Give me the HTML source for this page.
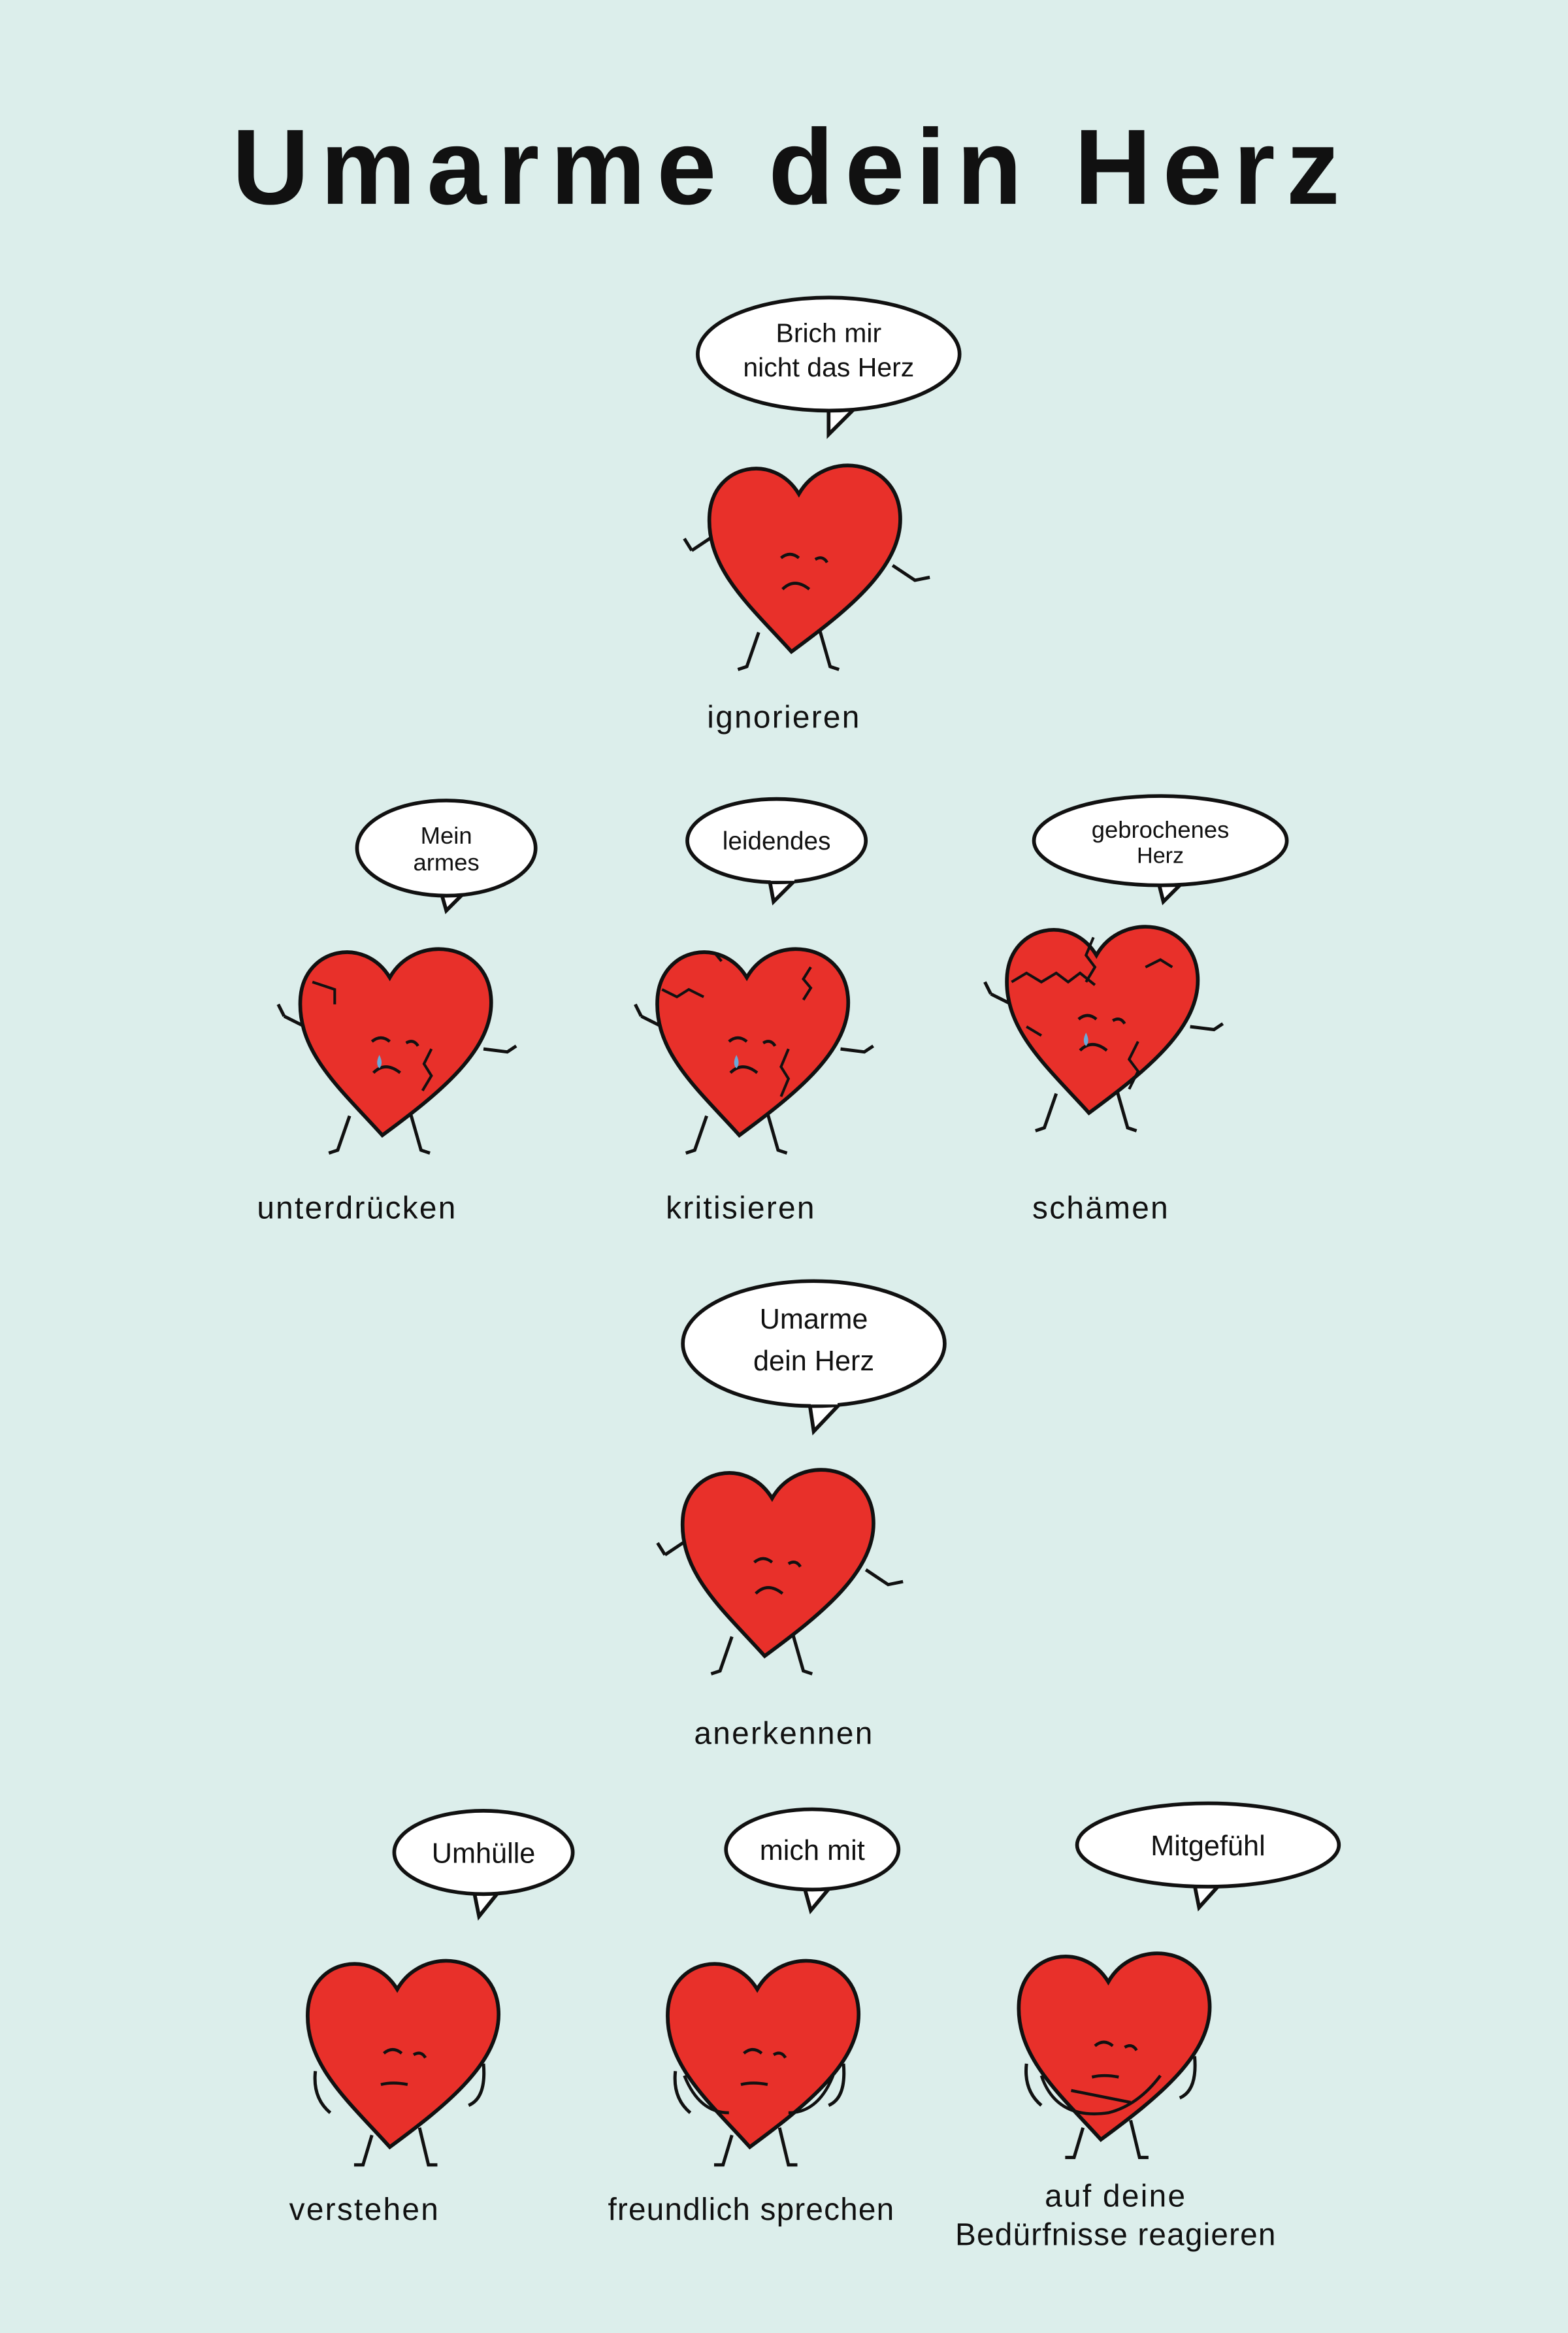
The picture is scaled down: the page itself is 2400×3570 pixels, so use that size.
<!DOCTYPE html>
<html><head><meta charset="utf-8"><style>
html,body{margin:0;padding:0;background:#dceeeb;}
svg{display:block;}
text{font-family:"Liberation Sans",sans-serif;fill:#111;}
</style></head><body>
<svg width="2400" height="3570" viewBox="0 0 1054 1568" preserveAspectRatio="none" xmlns="http://www.w3.org/2000/svg">
<rect width="1054" height="1568" fill="#dceeeb"/>
<defs>
<path id="hp" d="M-8,68 C-35,38 -66,12 -63,-25 C-60,-58 -20,-66 -3,-38 C14,-68 62,-62 65,-25 C68,10 30,40 -8,68 Z" fill="#e8302a" stroke="#111" stroke-width="2.5"/>
<g id="h1">
<path d="M-60,-10 L-75,0 M-75,0 L-80,-8 M60,10 L75,20 L85,18 M-30,55 L-38,78 L-44,80 M10,50 L18,78 L24,80" stroke="#111" stroke-width="2.2" fill="none"/>
<use href="#hp"/>
<path d="M-15,5 q6,-5 12,0 M8,6 q5,-3 8,2 M-14,26 q8,-8 18,0" stroke="#111" stroke-width="2" fill="none"/>
</g>
<g id="h2">
<path d="M-60,-5 L-74,-12 M-74,-12 L-78,-20 M60,10 L76,12 L82,8 M-30,55 L-38,78 L-44,80 M10,50 L18,78 L24,80" stroke="#111" stroke-width="2.2" fill="none"/>
<use href="#hp"/>
<path d="M-15,5 q6,-5 12,0 M8,6 q5,-3 8,2 M-14,26 q8,-8 18,0" stroke="#111" stroke-width="2" fill="none"/>
<path d="M-10,14 q-3,6 0,9 q3,-3 0,-9z" fill="#6aa9d8"/>
</g>
<g id="h3">
<path d="M-48,45 q-12,-10 -10,-28 M45,40 q12,-5 10,-28 M-20,60 L-26,80 L-32,80 M12,55 L18,80 L24,80" stroke="#111" stroke-width="2.2" fill="none"/>
<use href="#hp"/>
<path d="M-12,5 q6,-5 12,0 M8,6 q5,-3 8,2 M-14,26 q8,-2 18,0" stroke="#111" stroke-width="2" fill="none"/>
</g>
</defs>

<text x="532" y="137" font-size="72" font-weight="bold" text-anchor="middle" letter-spacing="7.5">Umarme dein Herz</text>

<path d="M557,276 L557,292 L575,274" fill="#fff" stroke="#111" stroke-width="2.5"/>
<ellipse cx="557" cy="238" rx="88" ry="38" fill="#fff" stroke="#111" stroke-width="2.5"/>
<path d="M550,272 L570,272" stroke="#fff" stroke-width="4"/>
<text x="557" y="230" font-size="18" text-anchor="middle">Brich mir</text>
<text x="557" y="253" font-size="18" text-anchor="middle">nicht das Herz</text>
<use href="#h1" x="540" y="370"/>
<text x="527" y="489" font-size="21" text-anchor="middle" letter-spacing="1">ignorieren</text>

<g fill="#fff" stroke="#111" stroke-width="2.5">
<path d="M296,598 L300,612 L315,597"/><ellipse cx="300" cy="570" rx="60" ry="32"/>
<path d="M517,590 L520,606 L536,590"/><ellipse cx="522" cy="565" rx="60" ry="28"/>
<path d="M778,590 L782,606 L798,590"/><ellipse cx="780" cy="565" rx="85" ry="30"/>
</g>
<g stroke="#fff" stroke-width="4"><path d="M297,598 L313,598 M518,590 L534,590 M779,591 L796,591"/></g>
<text x="300" y="567" font-size="16" text-anchor="middle">Mein</text>
<text x="300" y="585" font-size="16" text-anchor="middle">armes</text>
<text x="522" y="571" font-size="17" text-anchor="middle">leidendes</text>
<text x="780" y="563" font-size="16" text-anchor="middle">gebrochenes</text>
<text x="780" y="580" font-size="15" text-anchor="middle">Herz</text>

<use href="#h2" x="265" y="695"/>
<use href="#h2" x="505" y="695"/>
<use href="#h2" x="740" y="680"/>
<g stroke="#111" stroke-width="1.8" fill="none">
<path d="M210,660 l15,5 l0,10 M290,705 l-5,10 l5,8 l-6,10"/>
<path d="M445,665 l10,5 l8,-5 l10,5 M545,650 l-5,8 l5,6 l-5,8 M530,705 l-5,12 l5,8 l-5,12 M480,640 l5,6"/>
<path d="M680,660 l10,-6 l10,6 l10,-6 l8,6 l8,-6 l10,8 M735,630 l-5,12 l6,8 l-6,10 M770,650 l10,-5 l8,5 M765,700 l-6,12 l6,8 l-6,12 M690,690 l10,6"/>
</g>
<text x="240" y="819" font-size="21" text-anchor="middle" letter-spacing="1">unterdrücken</text>
<text x="498" y="819" font-size="21" text-anchor="middle" letter-spacing="1">kritisieren</text>
<text x="740" y="819" font-size="21" text-anchor="middle" letter-spacing="1">schämen</text>

<path d="M544,942 L547,962 L566,942" fill="#fff" stroke="#111" stroke-width="2.5"/>
<ellipse cx="547" cy="903" rx="88" ry="42" fill="#fff" stroke="#111" stroke-width="2.5"/>
<path d="M545,942 L563,942" stroke="#fff" stroke-width="4"/>
<text x="547" y="893" font-size="19" text-anchor="middle">Umarme</text>
<text x="547" y="921" font-size="19" text-anchor="middle">dein Herz</text>
<use href="#h1" x="522" y="1045"/>
<text x="527" y="1172" font-size="21" text-anchor="middle" letter-spacing="1">anerkennen</text>

<g fill="#fff" stroke="#111" stroke-width="2.5">
<path d="M318,1268 L322,1288 L338,1268"/><ellipse cx="325" cy="1245" rx="60" ry="28"/>
<path d="M540,1266 L545,1284 L560,1266"/><ellipse cx="546" cy="1243" rx="58" ry="27"/>
<path d="M802,1262 L806,1282 L824,1262"/><ellipse cx="812" cy="1240" rx="88" ry="28"/>
</g>
<g stroke="#fff" stroke-width="4"><path d="M319,1268 L336,1268 M541,1266 L558,1266 M803,1262 L822,1262"/></g>
<text x="325" y="1252" font-size="19" text-anchor="middle">Umhülle</text>
<text x="546" y="1250" font-size="19" text-anchor="middle">mich mit</text>
<text x="812" y="1247" font-size="19" text-anchor="middle">Mitgefühl</text>

<use href="#h3" x="270" y="1375"/>
<use href="#h3" x="512" y="1375"/>
<use href="#h3" x="748" y="1370"/>
<g stroke="#111" stroke-width="2" fill="none">
<path d="M460,1395 q10,25 30,25 M560,1395 q-10,25 -30,25"/>
<path d="M700,1395 q10,30 45,25 q20,-5 35,-25 M720,1405 l40,8"/>
</g>
<text x="245" y="1492" font-size="21" text-anchor="middle" letter-spacing="1">verstehen</text>
<text x="505" y="1492" font-size="21" text-anchor="middle" letter-spacing="0.5">freundlich sprechen</text>
<text x="750" y="1483" font-size="21" text-anchor="middle" letter-spacing="1">auf deine</text>
<text x="750" y="1509" font-size="21" text-anchor="middle" letter-spacing="0.5">Bedürfnisse reagieren</text>
</svg>
</body></html>
